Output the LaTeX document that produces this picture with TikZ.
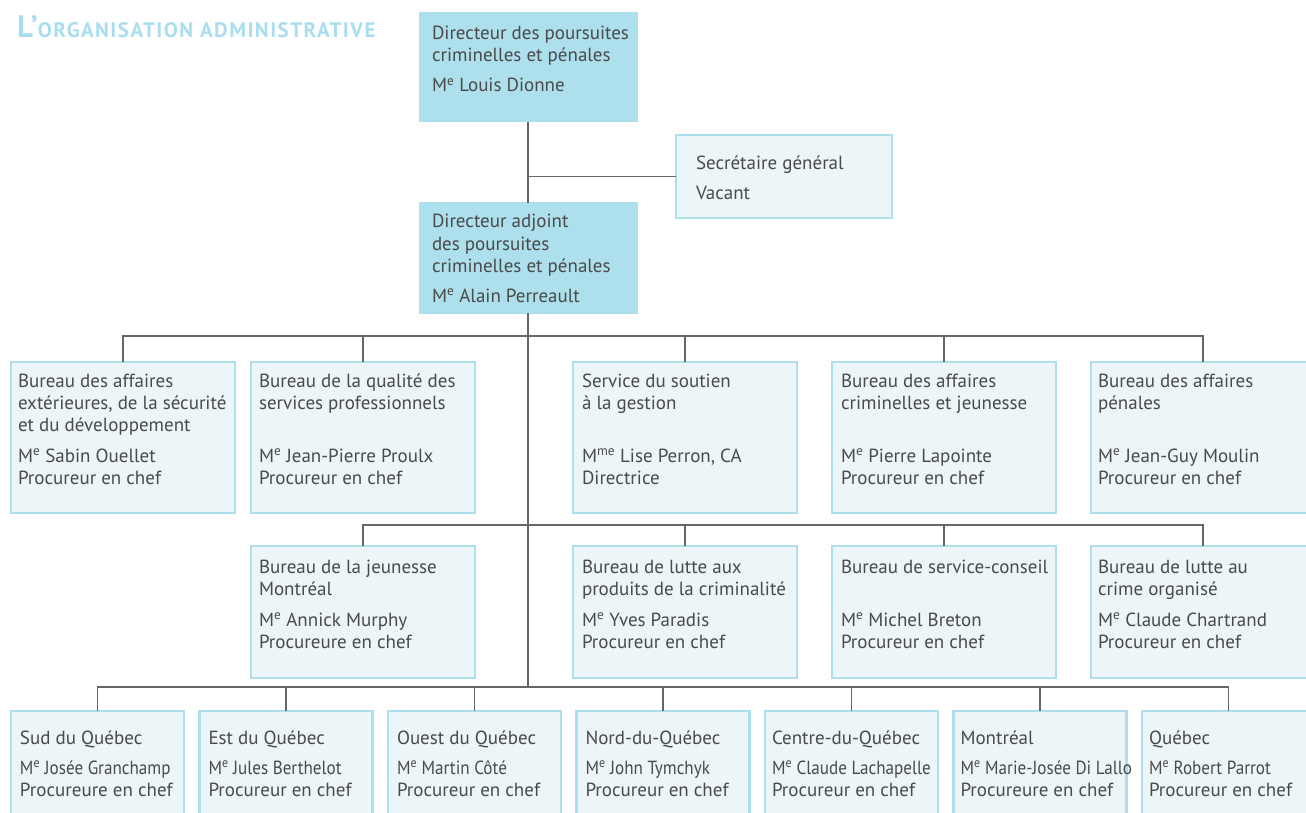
\documentclass[tikz,border=0pt]{standalone}
\usepackage{fontspec}
\setmainfont{PT Sans}
\newfontfamily\ttlfont{PT Sans}[LetterSpace=7]
\usetikzlibrary{calc}
\definecolor{dark}{HTML}{ADDFEC}
\definecolor{lfill}{HTML}{ECF5F8}
\definecolor{bord}{HTML}{ADDFEC}
\definecolor{ink}{HTML}{4A4A4A}
\definecolor{wire}{HTML}{666666}
\definecolor{ttl}{HTML}{A9DEEE}
% width, height, left pad, first baseline, body
\newcommand\bt[5]{\parbox[c][#2][t]{#1}{\raggedright\leftskip=#3\relax\baselineskip=22pt\relax\hfuzz=50pt\rule{0pt}{#4}#5}}
\newcommand\Mtr{M\textsuperscript{e}}
\newcommand\Mmme{M\textsuperscript{me}}
\newcommand\sq[1]{\mbox{\addfontfeature{FakeStretch=0.9}#1}}
\tikzset{
  x=1pt, y=-1pt,
  anybox/.style={inner sep=0pt, outer sep=0pt, anchor=north west, text=ink,
    font=\fontsize{19}{22}\selectfont},
  dbox/.style={anybox, fill=dark, draw=dark, line width=1pt},
  lbox/.style={anybox, fill=lfill, draw=bord, line width=2.5pt},
  wire/.style={draw=wire, line width=1.5pt}
}
\begin{document}
\begin{tikzpicture}
\useasboundingbox (0,0) rectangle (1306,813);
\clip (0,0) rectangle (1306,813);
\node[anchor=base west, text=ttl, inner sep=0pt, font=\ttlfont\bfseries] (title) at (17,37.5)
  {\fontsize{31}{31}\selectfont L’\fontsize{21}{22}\selectfont ORGANISATION ADMINISTRATIVE};

\node[dbox] (dir) at (419,13) {\bt{218pt}{109pt}{13pt}{27pt}{Directeur des poursuites\\criminelles et pénales\\[8pt]\Mtr{} Louis Dionne}};
\node[lbox] (sec) at (676,135) {\bt{216pt}{83pt}{20pt}{35pt}{Secrétaire général\\[8pt]Vacant}};
\node[dbox] (adj) at (419,203) {\bt{218pt}{110pt}{13pt}{25pt}{Directeur adjoint\\des poursuites\\criminelles et pénales\\[8pt]\Mtr{} Alain Perreault}};

% row 1
\node[lbox] (r1a) at (11,362) {\bt{224pt}{151pt}{7pt}{25pt}{Bureau des affaires\\extérieures, de la sécurité\\et du développement\\[9pt]\Mtr{} Sabin Ouellet\\Procureur en chef}};
\node[lbox] (r1b) at (251,362) {\bt{224pt}{151pt}{8pt}{25pt}{Bureau de la qualité des\\services professionnels\\[31pt]\Mtr{} Jean-Pierre Proulx\\Procureur en chef}};
\node[lbox] (r1c) at (573,362) {\bt{224pt}{151pt}{9pt}{25pt}{Service du soutien\\à la gestion\\[31pt]\Mmme{} Lise Perron, CA\\Directrice}};
\node[lbox] (r1d) at (832,362) {\bt{224pt}{151pt}{9pt}{25pt}{Bureau des affaires\\criminelles et jeunesse\\[31pt]\Mtr{} Pierre Lapointe\\Procureur en chef}};
\node[lbox] (r1e) at (1091,362) {\bt{224pt}{151pt}{7pt}{25pt}{Bureau des affaires\\pénales\\[31pt]\Mtr{} Jean-Guy Moulin\\Procureur en chef}};

% row 2
\node[lbox] (r2a) at (251,546) {\bt{224pt}{132pt}{8pt}{27pt}{Bureau de la jeunesse\\Montréal\\[9pt]\Mtr{} Annick Murphy\\Procureure en chef}};
\node[lbox] (r2b) at (573,546) {\bt{224pt}{132pt}{9pt}{27pt}{Bureau de lutte aux\\produits de la criminalité\\[9pt]\Mtr{} Yves Paradis\\Procureur en chef}};
\node[lbox] (r2c) at (832,546) {\bt{224pt}{132pt}{9pt}{27pt}{Bureau de service-conseil\\[31pt]\Mtr{} Michel Breton\\Procureur en chef}};
\node[lbox] (r2d) at (1091,546) {\bt{224pt}{132pt}{7pt}{27pt}{Bureau de lutte au\\crime organisé\\[9pt]\Mtr{} Claude Chartrand\\Procureur en chef}};

% row 3
\node[lbox] (r3a) at (11,711) {\bt{173pt}{120pt}{9pt}{33pt}{Sud du Québec\\[8pt]\sq{\Mtr{} Josée Granchamp}\\\mbox{Procureure en chef}}};
\node[lbox] (r3b) at (199.5,711) {\bt{173pt}{120pt}{9pt}{33pt}{Est du Québec\\[8pt]\sq{\Mtr{} Jules Berthelot}\\Procureur en chef}};
\node[lbox] (r3c) at (388,711) {\bt{173pt}{120pt}{9pt}{33pt}{Ouest du Québec\\[8pt]\sq{\Mtr{} Martin Côté}\\Procureur en chef}};
\node[lbox] (r3d) at (576.5,711) {\bt{173pt}{120pt}{9pt}{33pt}{Nord-du-Québec\\[8pt]\sq{\Mtr{} John Tymchyk}\\Procureur en chef}};
\node[lbox] (r3e) at (765,711) {\bt{173pt}{120pt}{7pt}{33pt}{Centre-du-Québec\\[8pt]\sq{\Mtr{} Claude Lachapelle}\\Procureur en chef}};
\node[lbox] (r3f) at (953.5,711) {\bt{173pt}{120pt}{7pt}{33pt}{Montréal\\[8pt]\sq{\Mtr{} Marie-Josée Di Lallo}\\\mbox{Procureure en chef}}};
\node[lbox] (r3g) at (1142,711) {\bt{173pt}{120pt}{7pt}{33pt}{Québec\\[8pt]\sq{\Mtr{} Robert Parrot}\\Procureur en chef}};

% connectors
\coordinate (spine) at (528,687);
\draw[wire] (dir.south) -- (adj.north);
\draw[wire] (sec.west) -- (sec.west -| dir.south);
\draw[wire] (adj.south) -- (spine);
\draw[wire] (r1a.north) -- ++(0,-26) -| (r1e.north);
\foreach \n in {r1b,r1c,r1d} \draw[wire] (\n.north) -- ++(0,-26);
\draw[wire] (r2a.north) -- ++(0,-21) -| (r2d.north);
\foreach \n in {r2b,r2c} \draw[wire] (\n.north) -- ++(0,-21);
\draw[wire] (r3a.north) -- ++(0,-24) -| (r3g.north);
\foreach \n in {r3b,r3c,r3d,r3e,r3f} \draw[wire] (\n.north) -- ++(0,-24);
\end{tikzpicture}
\end{document}
